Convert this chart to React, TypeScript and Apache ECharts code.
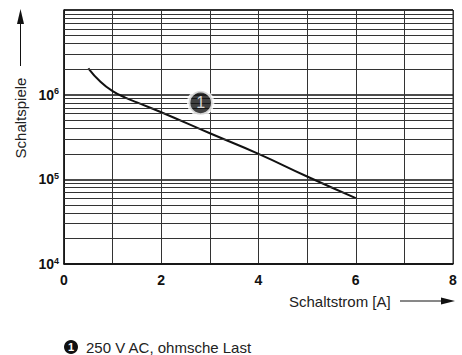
import React, { useEffect, useRef } from "react";
import * as echarts from "echarts";

const FONT = "'Liberation Sans', Arial, Helvetica, sans-serif";

// Curve: Schaltstrom [A] vs Schaltspiele
const currentA = [0.5, 0.75, 1, 1.25, 1.5, 2, 3, 4, 5, 6];
const cycles = [2.05e6, 1.42e6, 1.1e6, 9.3e5, 8.1e5, 6.2e5, 3.5e5, 2.0e5, 1.08e5, 6.0e4];

// Annotation marker position ("1")
const markerPos = [2.81, 8.0e5];
const markerLabel = "1";

// Minor horizontal grid lines (2..9 per decade)
const minorFactors = [2, 3, 4, 5, 6, 7, 8, 9];
const decades = [1e4, 1e5, 1e6];

const xTitle = "Schaltstrom [A]";
const yTitle = "Schaltspiele";
const legendText = "250 V AC, ohmsche Last";

export default function App() {
  const ref = useRef<HTMLDivElement>(null);
  useEffect(() => {
    if (!ref.current) return;
    const chart = echarts.init(ref.current, null, { renderer: "svg" });
    const minorValues: number[] = [];
    decades.forEach((d) => minorFactors.forEach((f) => minorValues.push(f * d)));

    chart.setOption({
      animation: false,
      backgroundColor: "#fff",
      textStyle: { fontFamily: FONT },
      grid: {
        left: 64,
        top: 10,
        width: 389,
        height: 254,
        show: true,
        borderColor: "#222",
        borderWidth: 1,
        backgroundColor: "transparent",
      },
      xAxis: {
        type: "value",
        min: 0,
        max: 8,
        interval: 1,
        axisLine: { show: true, lineStyle: { color: "#111", width: 1.5 } },
        axisTick: { show: false },
        splitLine: { show: true, lineStyle: { color: "#333", width: 1 } },
        axisLabel: {
          margin: 9,
          color: "#111",
          fontFamily: FONT,
          fontWeight: "bold",
          fontSize: 14,
          formatter: (v: number) => (v % 2 === 0 ? String(v) : ""),
        },
      },
      yAxis: {
        type: "log",
        logBase: 10,
        min: 1e4,
        max: 1e7,
        axisLine: { show: true, lineStyle: { color: "#111", width: 1.5 } },
        axisTick: { show: false },
        splitLine: { show: true, lineStyle: { color: "#111", width: 1.6 } },
        axisLabel: {
          margin: 5,
          color: "#111",
          fontFamily: FONT,
          formatter: (v: number) => {
            const e = Math.round(Math.log10(v));
            if (e >= 7) return "";
            return "{b|10}{s|" + e + "}";
          },
          rich: {
            b: { fontSize: 14, fontWeight: "bold", color: "#111", fontFamily: FONT, lineHeight: 16 },
            s: {
              fontSize: 9,
              fontWeight: "bold",
              color: "#111",
              fontFamily: FONT,
              verticalAlign: "top",
              lineHeight: 9,
            },
          },
        },
      },
      series: [
        {
          type: "line",
          data: [],
          silent: true,
          z: 1,
          markLine: {
            silent: true,
            symbol: "none",
            label: { show: false },
            lineStyle: { color: "#333", width: 1, type: "solid" },
            data: minorValues.map((v) => ({ yAxis: v })),
          },
        },
        {
          type: "line",
          data: currentA.map((x, i) => [x, cycles[i]]),
          smooth: 0.5,
          showSymbol: false,
          symbol: "none",
          z: 3,
          lineStyle: { color: "#111", width: 2 },
        },
        {
          type: "scatter",
          data: [markerPos],
          symbol: "circle",
          symbolSize: 24,
          z: 5,
          itemStyle: { color: "#111", borderColor: "#fff", borderWidth: 3.5 },
          label: {
            show: true,
            position: "inside",
            formatter: markerLabel,
            color: "#fff",
            fontFamily: FONT,
            fontSize: 16,
          },
        },
      ],
      graphic: [
        // Y title arrow
        { type: "line", shape: { x1: 20.5, y1: 22, x2: 20.5, y2: 66 }, style: { stroke: "#111", lineWidth: 1 } },
        {
          type: "polygon",
          shape: { points: [[20.5, 9], [17, 24], [24, 24]] },
          style: { fill: "#111" },
        },
        {
          type: "text",
          x: 20,
          y: 118,
          rotation: Math.PI / 2,
          style: {
            text: yTitle,
            fontFamily: FONT,
            fontSize: 15,
            fill: "#222",
            align: "center",
            verticalAlign: "middle",
          },
        },
        // X title and arrow
        {
          type: "text",
          x: 289,
          y: 301,
          style: {
            text: xTitle,
            fontFamily: FONT,
            fontSize: 15,
            fill: "#222",
            align: "left",
            verticalAlign: "middle",
          },
        },
        { type: "line", shape: { x1: 400, y1: 301, x2: 444, y2: 301 }, style: { stroke: "#111", lineWidth: 1 } },
        {
          type: "polygon",
          shape: { points: [[455, 301], [441, 297.5], [441, 304.5]] },
          style: { fill: "#111" },
        },
        // Legend
        { type: "circle", shape: { cx: 71, cy: 347, r: 7 }, style: { fill: "#111" } },
        {
          type: "text",
          x: 71,
          y: 347,
          style: {
            text: markerLabel,
            fontFamily: FONT,
            fontSize: 11,
            fontWeight: "bold",
            fill: "#fff",
            align: "center",
            verticalAlign: "middle",
          },
        },
        {
          type: "text",
          x: 86,
          y: 347,
          style: {
            text: legendText,
            fontFamily: FONT,
            fontSize: 15,
            fill: "#222",
            align: "left",
            verticalAlign: "middle",
          },
        },
      ],
    });
    return () => chart.dispose();
  }, []);
  return (
    <div
      ref={ref}
      style={{ position: "absolute", left: 0, top: 0, width: 462, height: 355, background: "#fff" }}
    />
  );
}
